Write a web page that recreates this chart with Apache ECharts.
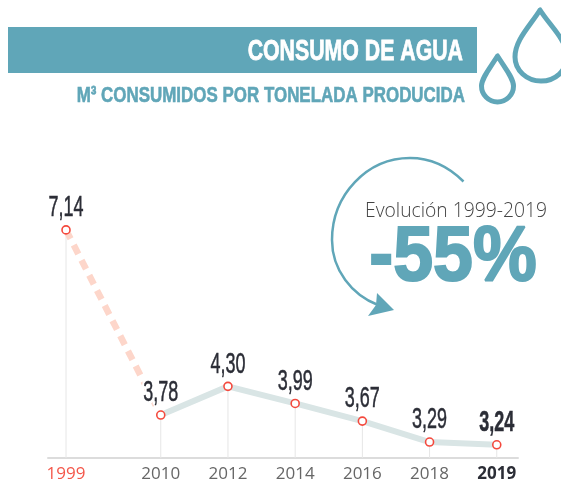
<!DOCTYPE html>
<html>
<head>
<meta charset="utf-8">
<style>
  html, body { margin: 0; padding: 0; background: #fff; }
  #chart { width: 561px; height: 483px; }
</style>
<script src="https://cdn.jsdelivr.net/npm/echarts@6/dist/echarts.min.js"></script>
</head>
<body>
<div id="chart"></div>
<script>
// datos
var years = ['1999', '2010', '2012', '2014', '2016', '2018', '2019'];
var values = [7.14, 3.78, 4.30, 3.99, 3.67, 3.29, 3.24];
// el eje no es proporcional: cada tramo vale un "hueco", 1999 queda algo mas lejos
var slots = [0, 1.41, 2.41, 3.41, 4.41, 5.41, 6.41];

var TEAL = '#60a6b8';
var SANS = '"Liberation Sans", sans-serif';
var OPEN = '"Open Sans", sans-serif';

var pairs = slots.map(function (s, i) { return [s, values[i]]; });

// el componente graphic no acepta pathData directo, se registran las formas
echarts.graphic.registerShape('gotaChica', echarts.graphic.extendPath(
  'M497.5 56 C490 68 481.5 78 481.5 86 A16 16 0 0 0 513.5 86 C513.5 78 505 68 497.5 56 Z'));
echarts.graphic.registerShape('gotaGrande', echarts.graphic.extendPath(
  'M540 10 C530 26 515 40 515 57 A26 24 0 0 0 567 57 C567 40 550 26 540 10 Z'));
echarts.graphic.registerShape('arco', echarts.graphic.extendPath(
  'M463.5 181.5 C449 167 431 158 410 158 C367 158 332 195 332 240 C332 270 352 295 378 305'));
echarts.graphic.registerShape('punta', echarts.graphic.extendPath(
  'M377 293 L394 310 L368 316 L376 305 Z'));

var chart = echarts.init(document.getElementById('chart'));

// etiqueta de valor, estrechada para parecerse a la condensada original
function renderValueLabel(params, api) {
  var last = params.dataIndex === values.length - 1;
  var p = api.coord([api.value(0), api.value(1)]);
  var text = api.value(1).toFixed(2).replace('.', ',');
  var base = {
    text: text,
    fontFamily: SANS,
    fontSize: 30,
    fontWeight: last ? 'bold' : 'normal',
    align: 'center',
    verticalAlign: 'middle'
  };
  // primero un halo blanco: en el original corta la linea punteada junto a 3,78
  return {
    type: 'group',
    x: p[0],
    y: p[1] - 22,
    scaleX: 0.6,
    children: [
      { type: 'text', style: Object.assign({}, base, { fill: '#fff', stroke: '#fff', lineWidth: 7 }) },
      { type: 'text', style: Object.assign({}, base, { fill: '#2b2d36', stroke: '#2b2d36', lineWidth: 0.5 }) }
    ]
  };
}

chart.setOption({
  animation: false,
  grid: { left: 48, right: 43, top: 182.5, bottom: 25 },
  xAxis: {
    type: 'value',
    min: -0.268,
    max: 6.726,
    splitLine: { show: false },
    axisTick: { show: false },
    axisLine: { show: true, lineStyle: { color: '#dcdcdc', width: 2 } },
    axisLabel: {
      customValues: slots,
      margin: 8,
      hideOverlap: false,
      fontFamily: OPEN,
      fontSize: 17,
      color: '#666',
      formatter: function (v) {
        var i = slots.indexOf(v);
        if (i === 0) return '{first|' + years[i] + '}';
        if (i === years.length - 1) return '{last|' + years[i] + '}';
        return years[i];
      },
      rich: {
        first: { fontFamily: OPEN, fontSize: 17, color: '#f4574a' },
        last: { fontFamily: OPEN, fontSize: 17, fontWeight: 'bold', color: '#2b2d36' }
      }
    }
  },
  yAxis: {
    type: 'value',
    min: 3,
    max: 8,
    show: false
  },
  series: [
    {
      // lineas verticales
      type: 'bar',
      z: 1,
      barWidth: 1,
      silent: true,
      itemStyle: { color: '#e6e6e6' },
      data: pairs
    },
    {
      type: 'line',
      z: 2,
      silent: true,
      symbol: 'none',
      lineStyle: { color: '#fdd6ca', width: 6.5, type: [10, 7] },
      data: pairs.slice(0, 2)
    },
    {
      type: 'line',
      z: 2,
      silent: true,
      symbol: 'none',
      lineStyle: { color: '#d9e5e5', width: 6 },
      data: pairs.slice(1)
    },
    {
      type: 'custom',
      z: 3,
      silent: true,
      renderItem: renderValueLabel,
      data: pairs
    },
    {
      type: 'scatter',
      z: 4,
      silent: true,
      symbol: 'circle',
      symbolSize: 8,
      itemStyle: { color: '#fff', opacity: 1, borderColor: '#f4493d', borderWidth: 1.6 },
      data: pairs
    }
  ],
  graphic: [
    { type: 'rect', shape: { x: 8, y: 27, width: 469, height: 46 }, style: { fill: TEAL } },
    {
      type: 'text', x: 463, y: 52, scaleX: 0.71,
      style: { text: 'CONSUMO DE AGUA', fontFamily: SANS, fontWeight: 'bold', fontSize: 30, fill: '#fff', stroke: '#fff', lineWidth: 0.8, align: 'right', verticalAlign: 'middle' }
    },
    {
      type: 'text', x: 465, y: 96, scaleX: 0.77,
      style: { text: 'M³ CONSUMIDOS POR TONELADA PRODUCIDA', fontFamily: SANS, fontWeight: 'bold', fontSize: 22, fill: TEAL, stroke: TEAL, lineWidth: 0.6, align: 'right', verticalAlign: 'middle' }
    },
    // gotas
    { type: 'gotaChica', style: { fill: 'none', stroke: TEAL, lineWidth: 5, lineJoin: 'round' } },
    { type: 'gotaGrande', style: { fill: 'none', stroke: TEAL, lineWidth: 5, lineJoin: 'round' } },
    // flecha circular
    { type: 'arco', style: { fill: 'none', stroke: TEAL, lineWidth: 2.5 } },
    { type: 'punta', style: { fill: TEAL } },
    {
      type: 'text', x: 456, y: 212,
      style: { text: 'Evolución 1999-2019', fontFamily: OPEN, fontWeight: 300, fontSize: 19.3, fill: '#444', align: 'center', verticalAlign: 'middle' }
    },
    {
      type: 'text', x: 453, y: 258, scaleX: 0.92,
      style: { text: '-55%', fontFamily: SANS, fontWeight: 'bold', fontSize: 78, fill: TEAL, stroke: TEAL, lineWidth: 2, lineJoin: 'round', align: 'center', verticalAlign: 'middle' }
    }
  ]
});
</script>
</body>
</html>
